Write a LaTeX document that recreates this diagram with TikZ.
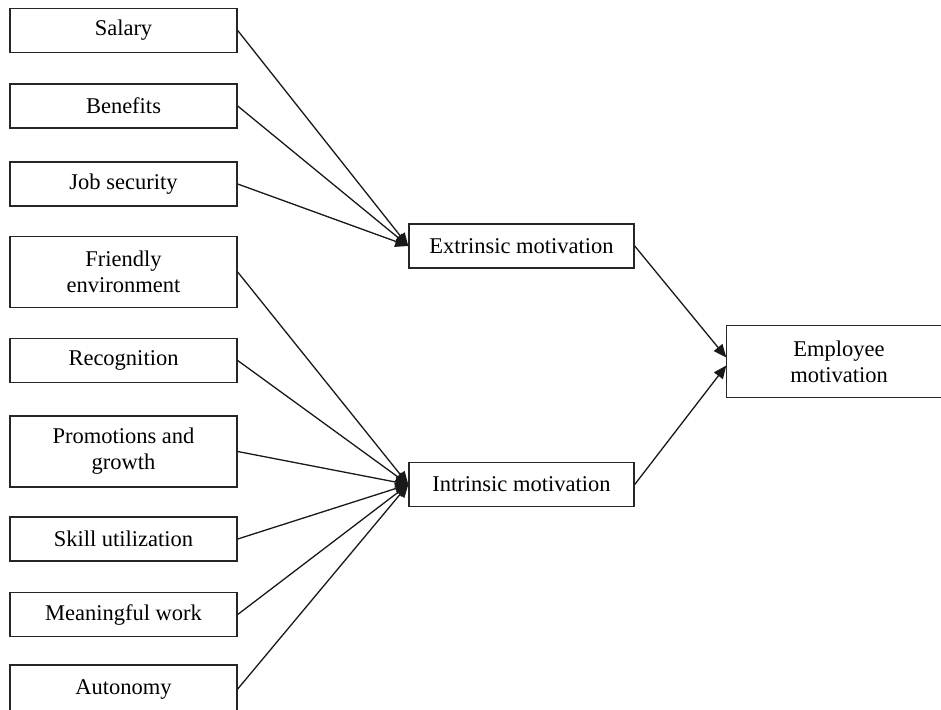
\documentclass[tikz,border=0pt]{standalone}
\usepackage{fontspec}
\setmainfont{Liberation Serif}
\usetikzlibrary{arrows.meta}
\begin{document}
\begin{tikzpicture}[x=1pt,y=-1pt,
 box/.style={draw=black!85, line width=1.4pt, minimum width=227pt, minimum height=44pt, inner sep=0pt, align=center, font=\fontsize{22.5}{26}\selectfont, text=black},
 tall/.style={box, minimum height=71pt},
 mid/.style={box, minimum width=225pt},
 edge/.style={draw=black!85, line width=1.4pt},
 conn/.style={draw=black!90, line width=1.3pt, -{Triangle[length=13pt,width=11pt]}}]
\useasboundingbox (0,0) rectangle (941,709);
% left boxes
\node[box]  (sal)  at (123.5,30.5)  {Salary};
\node[box]  (ben)  at (123.5,106)   {Benefits};
\node[box]  (job)  at (123.5,184)   {Job security};
\node[tall] (fri)  at (123.5,272)   {Friendly\\environment};
\node[box]  (rec)  at (123.5,360.5) {Recognition};
\node[tall] (pro)  at (123.5,451.5) {Promotions and\\growth};
\node[box]  (ski)  at (123.5,539)   {Skill utilization};
\node[box]  (mea)  at (123.5,614.5) {Meaningful work};
\node[box, minimum height=48pt]  (aut)  at (123.5,689) {Autonomy};
% middle boxes
\node[mid]  (ext)  at (521.5,246)   {Extrinsic motivation};
\node[mid]  (int)  at (521.5,484.5) {Intrinsic motivation};
% right box (cut off by the right margin)
\node[tall, draw=none, minimum width=240pt] (emp) at (847,361.5) {};
\draw[edge] (emp.north east) -- (emp.north west) -- (emp.south west) -- (emp.south east);
\node[align=center, font=\fontsize{22.5}{26}\selectfont, inner sep=0pt] (empt) at (839,361.5) {Employee\\motivation};
% connectors
\foreach \s in {sal,ben,job} \draw[conn] (\s.east) -- (ext.west);
\foreach \s in {fri,rec,pro,ski,mea,aut} \draw[conn] (\s.east) -- (int.west);
\draw[conn] (ext.east) -- ([yshift=4pt]emp.west);
\draw[conn] (int.east) -- ([yshift=-4pt]emp.west);
\end{tikzpicture}
\end{document}
